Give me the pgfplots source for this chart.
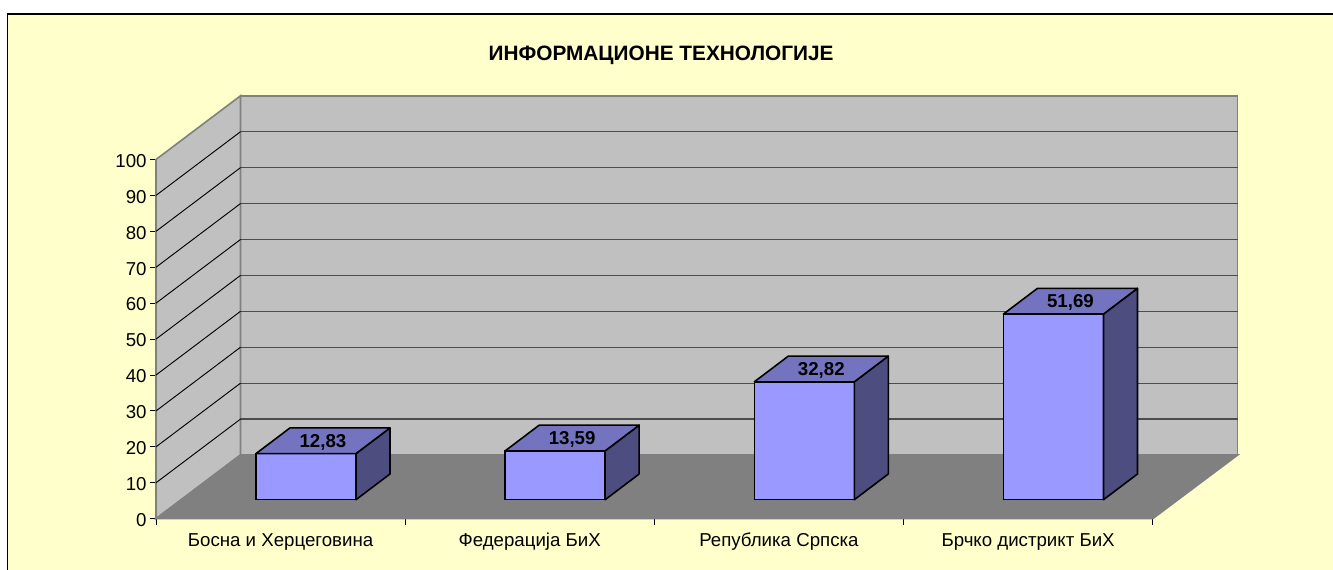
\documentclass[border=0pt]{standalone}
\usepackage{fontspec}
\setmainfont{Liberation Sans}
\usepackage{pgfplots}
\pgfplotsset{compat=1.18}
\definecolor{bgy}{HTML}{FFFFCC}
\definecolor{wall}{HTML}{C0C0C0}
\definecolor{floorc}{HTML}{808080}
\definecolor{barf}{HTML}{9999FF}
\definecolor{bart}{HTML}{7373BF}
\definecolor{bars}{HTML}{4D4D80}
\begin{document}
\begin{tikzpicture}
\path[use as bounding box] (0,0) rectangle (999.75pt,427.5pt);
\fill[bgy] (5.6pt,0) rectangle (999.75pt,417pt);
\draw[black,line width=1.1pt] (5.6pt,0) -- (5.6pt,417pt) -- (999.75pt,417pt);
\node[font=\bfseries\fontsize{15.6}{18}\selectfont,anchor=center] at (495.8pt,386pt) {ИНФОРМАЦИОНЕ ТЕХНОЛОГИЈЕ};
% walls, floor and value axis
\begin{axis}[
  at={(117pt,38.475pt)},anchor=south west,
  width=747.5pt,height=269.4pt,scale only axis,
  xmin=0,xmax=4,ymin=0,ymax=100,
  clip=false,
  axis lines*=left,
  axis line style={-,black,line width=1.1pt},
  xtick={0.5,1.5,2.5,3.5},
  xticklabels={Босна и Херцеговина,Федерација БиХ,Република Српска,Брчко дистрикт БиХ},
  minor xtick={0,1,2,3,4},
  ytick={0,10,...,100},
  major tick length=4.5pt,minor tick length=4.5pt,
  tick align=outside,
  tick style={black,line width=0.75pt},
  x tick style={draw=none},
  minor x tick style={draw=black,line width=0.75pt},
  xticklabel style={font=\fontsize{14}{16}\selectfont,text height=10pt,text depth=3pt,yshift=-2.5pt},
  yticklabel style={font=\fontsize{14}{16}\selectfont,xshift=1pt,yshift=-1pt},
  /pgf/number format/assume math mode=true,
  unbounded coords=jump,
]
\addplot[fill=wall,draw=floorc,line width=1.2pt] coordinates {(0.3391,17.73)(4.3411,17.73)(4.3411,117.73)(0.3391,117.73)} -- cycle;
\addplot[fill=wall,draw=floorc,line width=1.2pt] coordinates {(0,0)(0.3391,17.73)(0.3391,117.73)(0,100)} -- cycle;
\addplot[fill=floorc,draw=floorc,line width=1.2pt] coordinates {(0,0)(4,0)(4.3411,17.73)(0.3391,17.73)} -- cycle;
\addplot[draw=black!70,line width=1pt] coordinates {
 (0.3391,27.73)(4.3411,27.73)(4.3411,nan)
 (0.3391,37.73)(4.3411,37.73)(4.3411,nan)
 (0.3391,47.73)(4.3411,47.73)(4.3411,nan)
 (0.3391,57.73)(4.3411,57.73)(4.3411,nan)
 (0.3391,67.73)(4.3411,67.73)(4.3411,nan)
 (0.3391,77.73)(4.3411,77.73)(4.3411,nan)
 (0.3391,87.73)(4.3411,87.73)(4.3411,nan)
 (0.3391,97.73)(4.3411,97.73)(4.3411,nan)
 (0.3391,107.73)(4.3411,107.73)};
\addplot[draw=black,line width=0.7pt] coordinates {
 (0,10)(0.3391,27.73)(0.3391,nan)
 (0,20)(0.3391,37.73)(0.3391,nan)
 (0,30)(0.3391,47.73)(0.3391,nan)
 (0,40)(0.3391,57.73)(0.3391,nan)
 (0,50)(0.3391,67.73)(0.3391,nan)
 (0,60)(0.3391,77.73)(0.3391,nan)
 (0,70)(0.3391,87.73)(0.3391,nan)
 (0,80)(0.3391,97.73)(0.3391,nan)
 (0,90)(0.3391,107.73)};
\end{axis}
% bars: value 0 lies on the floor where the bars stand
\begin{axis}[
  at={(117pt,38.475pt)},anchor=south west,
  width=747.5pt,height=269.4pt,scale only axis,
  xmin=0,xmax=4,ymin=-5.29,ymax=94.71,
  clip=false,hide axis,
]
\addplot[ybar,bar width=75pt,bar shift=0pt,fill=barf,draw=black,line width=1.2pt] coordinates {(0.60195,12.83)(1.60195,13.59)(2.60195,32.82)(3.60195,51.69)};
\addplot[fill=bars,draw=black,line width=1.2pt,line join=round] coordinates {(0.8026,0)(0.9390,7.155)(0.9390,19.985)(0.8026,12.83)} -- cycle;
\addplot[fill=bart,draw=black,line width=1.2pt,line join=round] coordinates {(0.4013,12.83)(0.5377,19.985)(0.9390,19.985)(0.8026,12.83)} -- cycle;
\addplot[fill=bars,draw=black,line width=1.2pt,line join=round] coordinates {(1.8026,0)(1.9390,7.155)(1.9390,20.745)(1.8026,13.59)} -- cycle;
\addplot[fill=bart,draw=black,line width=1.2pt,line join=round] coordinates {(1.4013,13.59)(1.5377,20.745)(1.9390,20.745)(1.8026,13.59)} -- cycle;
\addplot[fill=bars,draw=black,line width=1.2pt,line join=round] coordinates {(2.8026,0)(2.9390,7.155)(2.9390,39.975)(2.8026,32.82)} -- cycle;
\addplot[fill=bart,draw=black,line width=1.2pt,line join=round] coordinates {(2.4013,32.82)(2.5377,39.975)(2.9390,39.975)(2.8026,32.82)} -- cycle;
\addplot[fill=bars,draw=black,line width=1.2pt,line join=round] coordinates {(3.8026,0)(3.9390,7.155)(3.9390,58.845)(3.8026,51.69)} -- cycle;
\addplot[fill=bart,draw=black,line width=1.2pt,line join=round] coordinates {(3.4013,51.69)(3.5377,58.845)(3.9390,58.845)(3.8026,51.69)} -- cycle;
\addplot[draw=none,nodes near coords,
  nodes near coords style={anchor=center,font=\bfseries\fontsize{14}{16}\selectfont,text=black,inner sep=0pt},
  point meta=explicit symbolic]
  table[meta=label] {
x y label
0.670 16.0 12,83
1.670 16.76 13,59
2.670 35.99 32,82
3.670 54.86 51,69
};
\end{axis}
\end{tikzpicture}
\end{document}
